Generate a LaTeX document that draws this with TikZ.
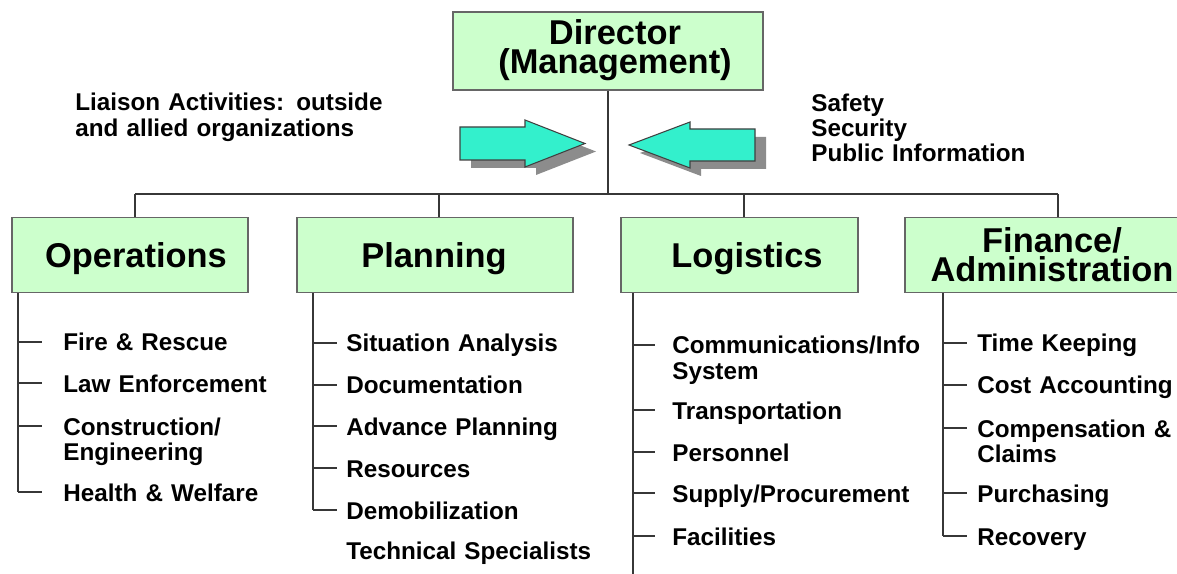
\documentclass[tikz,border=0pt]{standalone}
\usepackage{fontspec}
\setmainfont{Liberation Sans}
\usetikzlibrary{shadows}

\definecolor{boxgreen}{RGB}{204,255,204}
\definecolor{arrowcyan}{RGB}{51,240,204}
\definecolor{linegray}{RGB}{55,55,55}

\tikzset{
  unit/.style={draw=black!60, line width=0.8pt, fill=boxgreen,
    inner sep=0pt, minimum height=1.5cm},
  heading/.style={anchor=base, inner sep=0pt, text width=6cm, align=center,
    font=\bfseries\fontsize{19.6}{16.2}\selectfont},
  item/.style={anchor=base west, inner sep=0pt, text width=7cm, align=left,
    font=\bfseries\fontsize{13.8}{14.4}\selectfont},
  wire/.style={draw=linegray, line width=0.8pt},
  bigarrow/.style={draw=black!75, line width=0.6pt, fill=arrowcyan,
    drop shadow={shadow xshift=0.22cm, shadow yshift=-0.16cm,
      opacity=1, fill=black!45}}
}

\begin{document}
\begin{tikzpicture}[x=0.02cm, y=-0.02cm]
  \clip (0,0) rectangle (1177,574);
  \fill[white] (0,0) rectangle (1177,574);

  % top of the chart
  \node[unit, minimum width=6.2cm, minimum height=1.56cm] (dir) at (608,51) {};
  \node[heading] (dirname) at (615,45) {Director\\(Management)};
  \node[item] (liaison) at (75,111) {Liaison Activities: outside\\and allied organizations};
  \node[item, font=\bfseries\fontsize{13.8}{14.1}\selectfont] (staff) at (811,112)
    {Safety\\Security\\Public Information};

  \draw[bigarrow] (460,127) -- (525,127) -- (525,120) -- (585,143.5)
    -- (525,167) -- (525,160) -- (460,160) -- cycle;
  \draw[bigarrow] (755,129) -- (690,129) -- (690,122) -- (629,145)
    -- (690,168) -- (690,161) -- (755,161) -- cycle;

  % sections
  \node[unit, minimum width=4.72cm] (ops) at (130,255) {};
  \node[unit, minimum width=5.52cm] (plan) at (435,255) {};
  \node[unit, minimum width=4.74cm] (log) at (739.5,255) {};
  \node[unit, minimum width=5.94cm] (fin) at (1053.5,255) {};
  \node[heading] (opsname) at (136,268) {Operations};
  \node[heading] (planname) at (434,268) {Planning};
  \node[heading] (logname) at (747,268) {Logistics};
  \node[heading, font=\bfseries\fontsize{19.6}{16.5}\selectfont] (finname) at (1052,253)
    {Finance/\\Administration};

  \coordinate (bus) at (608,194);
  \draw[wire] (dir) -- (bus);
  \foreach \u/\x in {ops/135, plan/439, log/744, fin/1058} {
    \coordinate (\u top) at (\x,194);
    \draw[wire] (\u top) -- (\u top |- \u.north);
  }
  \draw[wire] (opstop) -- (fintop);

  % Operations
  \foreach \y/\txt [count=\i] in {351/Fire \& Rescue, 392/Law Enforcement,
      435/{Construction/\\Engineering}, 501/Health \& Welfare} {
    \node[item] (ops\i) at (63,\y) {\txt};
    \coordinate (opst\i) at (18,\y-9);
    \draw[wire] (opst\i) -- ++(24,0);
  }
  \draw[wire] (ops.south -| opst1) -- (opst4);

  % Planning
  \foreach \y/\txt [count=\i] in {352/Situation Analysis, 394/Documentation,
      435/Advance Planning, 477/Resources, 519/Demobilization} {
    \node[item] (plan\i) at (346,\y) {\txt};
    \coordinate (plant\i) at (313,\y-9);
    \draw[wire] (plant\i) -- ++(24,0);
  }
  \node[item] (plan6) at (346,559) {Technical Specialists};
  \draw[wire] (plan.south -| plant1) -- (plant5);

  % Logistics
  \foreach \y/\txt [count=\i] in {354/{Communications/Info\\System}, 419/Transportation,
      461/Personnel, 502/{Supply/Procurement}, 545/Facilities} {
    \node[item] (log\i) at (672,\y) {\txt};
    \coordinate (logt\i) at (633,\y-9);
    \draw[wire] (logt\i) -- ++(22,0);
  }
  \coordinate (logend) at (633,574);
  \draw[wire] (log.south -| logt1) -- (logend);

  % Finance / Administration
  \foreach \y/\txt [count=\i] in {352/Time Keeping, 394/Cost Accounting,
      437/{Compensation \&\\Claims}, 502/Purchasing, 545/Recovery} {
    \node[item] (fin\i) at (977,\y) {\txt};
    \coordinate (fint\i) at (943,\y-9);
    \draw[wire] (fint\i) -- ++(24,0);
  }
  \draw[wire] (fin.south -| fint1) -- (fint5);
\end{tikzpicture}
\end{document}
